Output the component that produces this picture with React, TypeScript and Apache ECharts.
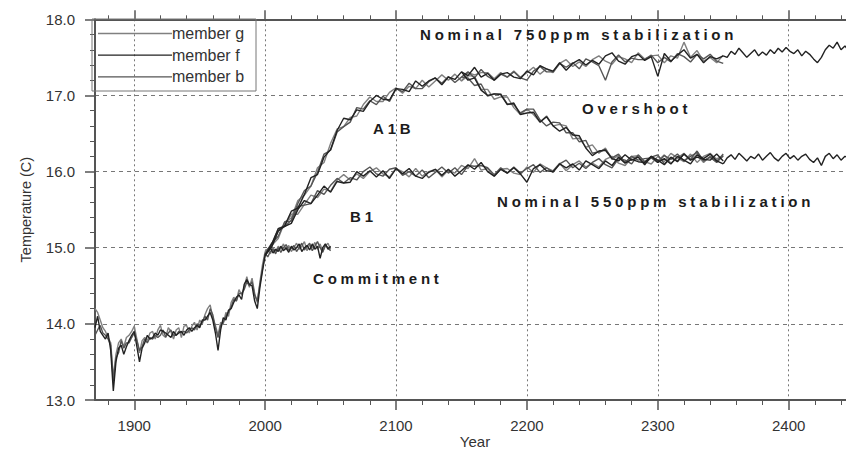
import React, { useEffect, useRef } from "react";
import * as echarts from "echarts";

// ---------- axis values ----------
const X_MIN = 1870;
const X_MAX = 2443.8;
const X_MAJOR = [1900, 2000, 2100, 2200, 2300, 2400];
const X_MINOR = [1880, 1920, 1940, 1960, 1980, 2020, 2040, 2060, 2080, 2120, 2140, 2160, 2180, 2220, 2240, 2260, 2280, 2320, 2340, 2360, 2380, 2420, 2440];
const Y_MIN = 13;
const Y_MAX = 18;
const X_TITLE = "Year";
const Y_TITLE = "Temperature (C)";

// ---------- annotations ----------
const ANNOTATIONS = [
  { text: "Nominal 750ppm stabilization", x: 420, y: 34 },
  { text: "Overshoot", x: 582, y: 108 },
  { text: "A1B", x: 373, y: 128 },
  { text: "Nominal 550ppm stabilization", x: 497, y: 201 },
  { text: "B1", x: 350, y: 216 },
  { text: "Commitment", x: 313, y: 278 },
];

// ---------- data: historical 1870-2000, every 2 years ----------
const histG = [
  14.2, 14.15, 14.05, 13.95, 13.9,
  13.82, 13.75, 13.3, 13.6, 13.75,
  13.8, 13.7, 13.82, 13.85, 13.9,
  13.97, 13.8, 13.62, 13.78, 13.82,
  13.78, 13.88, 13.9, 13.8, 13.92,
  13.98, 13.85, 13.82, 13.95, 13.9,
  13.8, 13.92, 13.95, 13.82, 13.97,
  13.98, 13.88, 13.97, 14.02, 13.92,
  14.05, 14.0, 14.12, 14.2, 14.25,
  14.08, 13.98, 13.85, 14.02, 14.0,
  14.15, 14.1, 14.28, 14.35, 14.3,
  14.45, 14.38, 14.48, 14.62, 14.48,
  14.6, 14.4, 14.28, 14.55, 14.78,
  14.95,
];
const histF = [
  13.95, 14.1, 13.9, 13.85, 13.8,
  13.88, 13.65, 13.12, 13.5, 13.68,
  13.72, 13.6, 13.7, 13.78, 13.85,
  13.9, 13.7, 13.5, 13.68, 13.75,
  13.85, 13.8, 13.82, 13.88, 13.85,
  13.92, 13.9, 13.88, 13.85, 13.82,
  13.9, 13.85, 13.88, 13.9, 13.85,
  13.92, 13.95, 13.9, 13.95, 13.98,
  13.95, 14.05, 14.05, 14.1, 14.15,
  14.05, 13.88, 13.65, 13.92, 14.08,
  14.05, 14.18, 14.2, 14.28, 14.35,
  14.38, 14.32, 14.52, 14.58, 14.52,
  14.5, 14.3, 14.2, 14.48, 14.7,
  14.9,
];
const histB = [
  13.85, 13.92, 13.98, 13.88, 13.85,
  13.8, 13.72, 13.25, 13.55, 13.62,
  13.78, 13.68, 13.75, 13.75, 13.82,
  13.88, 13.78, 13.65, 13.7, 13.8,
  13.75, 13.82, 13.8, 13.85, 13.82,
  13.85, 13.92, 13.83, 13.88, 13.92,
  13.85, 13.85, 13.9, 13.88, 13.9,
  13.88, 13.92, 13.95, 13.92, 14.0,
  13.98, 14.02, 14.1, 14.05, 14.2,
  14.12, 13.95, 13.82, 13.98, 14.02,
  14.1, 14.15, 14.22, 14.32, 14.3,
  14.4, 14.4, 14.45, 14.55, 14.5,
  14.55, 14.38, 14.3, 14.52, 14.72,
  14.92,
];

// ---------- commitment 2000-2050, every 2 years ----------
const commitG = [14.95, 14.98, 14.92, 15.0, 14.95, 15.02, 14.98, 15.05, 14.97, 15.03, 14.95, 15.0, 15.06, 14.98, 15.02, 15.08, 14.96, 15.04, 15.0, 15.07, 14.98, 15.05, 14.95, 15.02, 15.06, 14.98];
const commitF = [14.9, 14.95, 15.0, 14.93, 14.98, 14.95, 15.02, 14.96, 15.0, 14.94, 15.02, 14.97, 15.0, 15.05, 14.95, 15.0, 15.03, 14.97, 15.05, 14.98, 15.02, 14.86, 15.0, 15.05, 14.98, 15.02];
const commitB = [14.92, 14.88, 14.95, 14.98, 14.92, 15.0, 14.94, 15.0, 15.04, 14.97, 14.99, 15.03, 14.95, 15.0, 15.06, 14.97, 15.02, 15.06, 14.96, 15.02, 15.08, 15.0, 14.94, 15.04, 15.0, 14.96];

// ---------- B1 -> 550ppm, 2000-2350 every 5 years ----------
const lowG = [
  14.95, 15.04, 15.25, 15.29, 15.44, 15.44, 15.57, 15.69, 15.66, 15.77,
  15.74, 15.89, 15.96, 15.89, 15.97, 15.91, 16.0, 16.05, 15.97, 15.93,
  16.04, 16.0, 15.93, 16.04, 15.94, 16.0, 16.03, 15.93, 16.02, 15.98,
  16.08, 16.04, 16.17, 16.02, 16.04, 15.94, 16.03, 16.04, 15.98, 15.96,
  16.06, 15.99, 16.1, 16.05, 16.01, 16.11, 16.01, 16.09, 16.14, 16.06,
  16.11, 16.06, 16.16, 16.2, 16.11, 16.08, 16.18, 16.2, 16.11, 16.18,
  16.14, 16.22, 16.11, 16.18, 16.24, 16.15, 16.22, 16.12, 16.2, 16.17,
  16.2,
];
const lowF = [
  14.9, 15.05, 15.25, 15.28, 15.32, 15.5, 15.62, 15.58, 15.69, 15.81,
  15.73, 15.87, 15.85, 15.86, 16.0, 15.94, 16.01, 15.93, 16.01, 15.91,
  16.04, 15.97, 16.04, 15.94, 15.91, 15.99, 16.03, 15.95, 16.03, 15.94,
  16.01, 16.09, 16.03, 16.12, 16.0, 15.94, 16.03, 15.98, 16.05, 15.97,
  15.86, 16.04, 16.09, 16.01, 16.0, 16.1, 16.05, 16.1, 16.02, 16.14,
  16.09, 16.04, 16.14, 16.08, 16.19, 16.11, 16.16, 16.13, 16.12, 16.2,
  16.12, 16.17, 16.1, 16.2, 16.15, 16.1, 16.22, 16.17, 16.23, 16.14,
  16.1,
];
const lowB = [
  14.92, 15.06, 15.15, 15.34, 15.35, 15.54, 15.56, 15.58, 15.75, 15.7,
  15.82, 15.91, 15.85, 15.92, 15.89, 16.0, 16.06, 15.97, 15.94, 16.03,
  16.05, 15.95, 16.0, 15.94, 16.02, 15.92, 15.99, 16.06, 15.98, 16.05,
  15.96, 16.08, 16.07, 16.08, 16.05, 15.96, 16.05, 15.98, 16.06, 15.98,
  16.04, 16.09, 15.99, 16.05, 15.99, 16.1, 16.15, 16.05, 16.11, 16.04,
  16.12, 16.17, 16.09, 16.05, 16.17, 16.15, 16.1, 16.22, 16.13, 16.19,
  16.22, 16.1, 16.18, 16.14, 16.23, 16.16, 16.27, 16.14, 16.19, 16.12,
  16.21,
];

// ---------- A1B -> 750ppm, 2000-2350 every 5 years ----------
const highG = [
  14.95, 15.03, 15.12, 15.34, 15.39, 15.62, 15.69, 15.81, 16.05, 16.12,
  16.37, 16.56, 16.59, 16.71, 16.73, 16.88, 16.98, 16.92, 16.92, 17.04,
  17.1, 17.03, 17.12, 17.09, 17.2, 17.11, 17.19, 17.27, 17.2, 17.28,
  17.19, 17.3, 17.27, 17.3, 17.3, 17.22, 17.3, 17.24, 17.32, 17.24,
  17.3, 17.37, 17.28, 17.35, 17.3, 17.42, 17.47, 17.38, 17.44, 17.38,
  17.47, 17.52, 17.45, 17.41, 17.51, 17.48, 17.43, 17.56, 17.48, 17.52,
  17.53, 17.43, 17.52, 17.49, 17.7, 17.5, 17.59, 17.45, 17.5, 17.43,
  17.53,
];
const highF = [
  14.9, 15.01, 15.22, 15.29, 15.48, 15.52, 15.7, 15.92, 15.96, 16.19,
  16.29, 16.54, 16.7, 16.68, 16.81, 16.79, 16.92, 17.0, 16.95, 16.94,
  17.09, 17.08, 17.05, 17.19, 17.12, 17.19, 17.23, 17.14, 17.24, 17.21,
  17.31, 17.26, 17.37, 17.24, 17.29, 17.2, 17.28, 17.3, 17.24, 17.22,
  17.32, 17.27, 17.39, 17.35, 17.32, 17.43, 17.33, 17.42, 17.47, 17.4,
  17.46, 17.41, 17.52, 17.56, 17.45, 17.41, 17.51, 17.54, 17.46, 17.51,
  17.25, 17.55, 17.45, 17.53, 17.6, 17.49, 17.54, 17.43, 17.51, 17.48,
  17.52,
];
const highB = [
  14.92, 15.02, 15.22, 15.28, 15.36, 15.58, 15.75, 15.81, 15.99, 16.23,
  16.28, 16.52, 16.59, 16.65, 16.84, 16.82, 16.93, 16.88, 16.99, 16.92,
  17.09, 17.05, 17.16, 17.09, 17.09, 17.18, 17.23, 17.16, 17.25, 17.17,
  17.24, 17.31, 17.23, 17.34, 17.25, 17.2, 17.28, 17.24, 17.31, 17.23,
  17.2, 17.32, 17.38, 17.31, 17.31, 17.42, 17.37, 17.43, 17.35, 17.48,
  17.44, 17.39, 17.2, 17.44, 17.53, 17.44, 17.49, 17.47, 17.47, 17.53,
  17.43, 17.5, 17.44, 17.55, 17.51, 17.44, 17.54, 17.48, 17.54, 17.45,
  17.42,
];

// ---------- Overshoot, 2150-2350 every 5 years ----------
const overG = [
  17.19, 17.26, 17.25, 17.08, 17.08, 16.95, 16.98, 16.98, 16.84, 16.75,
  16.82, 16.75, 16.65, 16.73, 16.6, 16.62, 16.6, 16.43, 16.44, 16.32,
  16.35, 16.24, 16.31, 16.16, 16.21, 16.12, 16.2, 16.21, 16.13, 16.1,
  16.2, 16.13, 16.24, 16.18, 16.13, 16.23, 16.12, 16.2, 16.24, 16.16,
  16.2,
];
const overF = [
  17.31, 17.2, 17.23, 17.07, 17.0, 17.02, 17.01, 16.88, 16.9, 16.75,
  16.77, 16.78, 16.65, 16.72, 16.6, 16.53, 16.58, 16.48, 16.47, 16.31,
  16.21, 16.27, 16.28, 16.17, 16.14, 16.22, 16.15, 16.19, 16.09, 16.2,
  16.15, 16.09, 16.19, 16.13, 16.23, 16.15, 16.19, 16.16, 16.15, 16.23,
  16.14,
];
const overB = [
  17.24, 17.23, 17.13, 17.15, 16.99, 17.02, 17.02, 16.89, 16.88, 16.77,
  16.82, 16.82, 16.68, 16.6, 16.65, 16.64, 16.51, 16.51, 16.39, 16.41,
  16.24, 16.26, 16.29, 16.18, 16.23, 16.12, 16.2, 16.15, 16.17, 16.18,
  16.12, 16.21, 16.16, 16.23, 16.14, 16.2, 16.25, 16.14, 16.19, 16.13,
  16.23,
];

// ---------- single-member extensions, 2350-2446 every 3 years ----------
const extHighF = [
  17.52, 17.5, 17.58, 17.54, 17.62, 17.56, 17.5, 17.55, 17.6, 17.52,
  17.57, 17.53, 17.6, 17.55, 17.62, 17.57, 17.63, 17.58, 17.55, 17.6,
  17.52, 17.58, 17.54, 17.48, 17.43, 17.5, 17.6, 17.66, 17.62, 17.7,
  17.6, 17.65, 17.58,
];
const extLowF = [
  16.1, 16.18, 16.22, 16.16, 16.24, 16.19, 16.14, 16.2, 16.17, 16.23,
  16.15, 16.2, 16.25, 16.18, 16.14, 16.2, 16.24, 16.17, 16.21, 16.15,
  16.2, 16.23, 16.16, 16.12, 16.18, 16.08, 16.2, 16.24, 16.17, 16.22,
  16.15, 16.2, 16.18,
];

const MEMBERS = [
  { name: "member g", color: "#808080", hist: histG, commit: commitG, low: lowG, high: highG, over: overG },
  { name: "member f", color: "#222222", hist: histF, commit: commitF, low: lowF, high: highF, over: overF },
  { name: "member b", color: "#555555", hist: histB, commit: commitB, low: lowB, high: highB, over: overB },
];

const AX_FONT = "'Liberation Sans', Arial, sans-serif";
const NOTE_FONT = "'Liberation Sans', Spaced";

function toPairs(start: number, step: number, vals: number[]) {
  return vals.map((v, i) => [start + step * i, v]);
}

function lineSeries(id: string, color: string, data: number[][], z = 2) {
  return {
    id,
    type: "line",
    xAxisIndex: 0,
    yAxisIndex: 0,
    data,
    showSymbol: false,
    symbol: "none",
    silent: true,
    clip: true,
    z,
    lineStyle: { color, width: 1.4 },
  };
}

export default function App() {
  const ref = useRef<HTMLDivElement>(null);

  useEffect(() => {
    if (!ref.current) return;
    const chart = echarts.init(ref.current, null, { renderer: "svg" });

    const series: any[] = [];
    const order = [MEMBERS[0], MEMBERS[2], MEMBERS[1]];
    order.forEach((m, k) => {
      const z = 2 + k;
      series.push(lineSeries(m.name + "-hist", m.color, toPairs(1870, 2, m.hist), z));
      series.push(lineSeries(m.name + "-commit", m.color, toPairs(2000, 2, m.commit), z));
      series.push(lineSeries(m.name + "-low", m.color, toPairs(2000, 5, m.low), z));
      series.push(lineSeries(m.name + "-high", m.color, toPairs(2000, 5, m.high), z));
      series.push(lineSeries(m.name + "-over", m.color, toPairs(2150, 5, m.over), z));
    });
    const fColor = MEMBERS[1].color;
    series.push(lineSeries("member f-extHigh", fColor, toPairs(2350, 3, extHighF), 5));
    series.push(lineSeries("member f-extLow", fColor, toPairs(2350, 3, extLowF), 5));

    const axisColor = "#555";
    const baseX = {
      type: "value",
      min: X_MIN,
      max: X_MAX,
      gridIndex: 0,
      axisLine: { show: false, onZero: false },
      axisLabel: { show: false },
      splitLine: { show: false },
      axisTick: { show: false },
    };

    const graphic: any[] = [
      {
        type: "rect",
        shape: { x: 92, y: 19, width: 164, height: 72 },
        style: { fill: "none", stroke: "#777", lineWidth: 1 },
        silent: true,
        z: 20,
      },
      {
        type: "text",
        x: 475,
        y: 441,
        style: {
          text: X_TITLE,
          fontSize: 15,
          fontFamily: AX_FONT,
          fill: "#333",
          align: "center",
          verticalAlign: "middle",
        },
        silent: true,
        z: 20,
      },
    ];
    MEMBERS.forEach((m, i) => {
      const y = 33.5 + i * 21.7;
      graphic.push({
        type: "line",
        shape: { x1: 98, y1: y, x2: 172, y2: y },
        style: { stroke: m.color, lineWidth: 1.3 },
        silent: true,
        z: 20,
      });
      graphic.push({
        type: "text",
        x: 172,
        y,
        style: {
          text: m.name,
          fontSize: 16,
          fontFamily: AX_FONT,
          fill: "#333",
          align: "left",
          verticalAlign: "middle",
        },
        silent: true,
        z: 20,
      });
    });
    ANNOTATIONS.forEach((a) => {
      graphic.push({
        type: "text",
        x: a.x,
        y: a.y,
        style: {
          text: a.text,
          fontSize: 15,
          fontWeight: "bold",
          fontFamily: NOTE_FONT,
          fill: "#1c1c1c",
          align: "left",
          verticalAlign: "middle",
        },
        silent: true,
        z: 20,
      });
    });

    chart.setOption({
      animation: false,
      backgroundColor: "#ffffff",
      textStyle: { fontFamily: AX_FONT },
      grid: { left: 95, right: 0, top: 19.3, bottom: 51, containLabel: false, outerBoundsMode: "none" },
      xAxis: [
        {
          ...baseX,
          position: "bottom",
          axisLine: { show: true, onZero: false, lineStyle: { color: axisColor, width: 2 } },
          axisTick: { show: true, customValues: X_MAJOR, length: 10, inside: false, lineStyle: { color: axisColor, width: 1.5 } },
          axisLabel: {
            show: true,
            customValues: X_MAJOR,
            margin: 18,
            fontSize: 15,
            color: "#333",
            fontFamily: AX_FONT,
            formatter: (v: number) => String(Math.round(v)),
          },
          splitLine: { show: true, lineStyle: { color: "#777", width: 1, type: [2, 3] } },
        },
        {
          ...baseX,
          position: "bottom",
          axisTick: { show: true, customValues: X_MINOR, length: 5, inside: false, lineStyle: { color: axisColor, width: 1 } },
        },
        {
          ...baseX,
          position: "top",
          axisLine: { show: true, onZero: false, lineStyle: { color: axisColor, width: 2 } },
          axisTick: { show: true, customValues: X_MAJOR, length: 9, inside: false, lineStyle: { color: axisColor, width: 1.5 } },
        },
        {
          ...baseX,
          position: "top",
          axisTick: { show: true, customValues: X_MINOR, length: 4, inside: false, lineStyle: { color: axisColor, width: 1 } },
        },
      ],
      yAxis: [
        {
          type: "value",
          min: Y_MIN,
          max: Y_MAX,
          interval: 1,
          position: "left",
          name: Y_TITLE,
          nameLocation: "middle",
          nameGap: 62,
          nameTextStyle: { fontSize: 14.5, color: "#333", fontFamily: AX_FONT },
          axisLine: { show: true, onZero: false, lineStyle: { color: axisColor, width: 2 } },
          axisTick: { show: true, length: 10, inside: false, lineStyle: { color: axisColor, width: 1.5 } },
          minorTick: { show: true, splitNumber: 5, length: 5, lineStyle: { color: axisColor, width: 1 } },
          axisLabel: {
            margin: 20,
            fontSize: 15,
            color: "#333",
            fontFamily: AX_FONT,
            formatter: (v: number) => v.toFixed(1),
          },
          splitLine: { show: true, lineStyle: { color: "#777", width: 1, type: [4, 4] } },
        },
      ],
      graphic,
      series,
    });

    return () => {
      chart.dispose();
    };
  }, []);

  return (
    <>
      <style>{`.fig text[style*="Spaced"]{letter-spacing:3.8px;}`}</style>
      <div
        className="fig"
        ref={ref}
        style={{ position: "fixed", left: 0, top: 0, width: 846, height: 451, background: "#fff" }}
      />
    </>
  );
}
